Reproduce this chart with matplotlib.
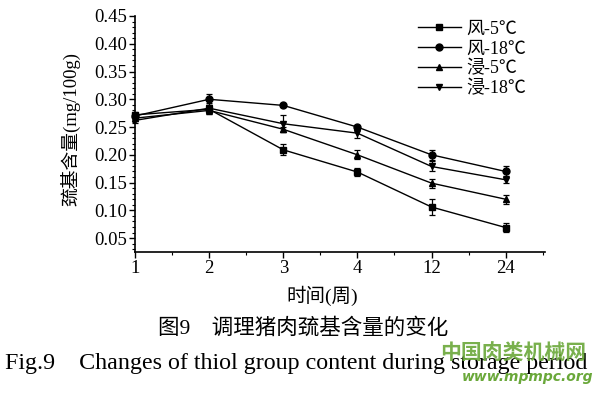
import matplotlib.pyplot as plt
from matplotlib.ticker import MultipleLocator
from matplotlib.lines import Line2D
import numpy as np

weeks = ['1', '2', '3', '4', '12', '24']
series_names = ['风-5℃', '风-18℃', '浸-5℃', '浸-18℃']
feng_5 = [0.272, 0.282, 0.209, 0.169, 0.106, 0.069]
feng_18 = [0.270, 0.300, 0.289, 0.250, 0.200, 0.170]
jin_5 = [0.266, 0.280, 0.246, 0.200, 0.149, 0.120]
jin_18 = [0.262, 0.284, 0.256, 0.239, 0.179, 0.155]
feng_5_err = [0.005, 0.008, 0.010, 0.008, 0.015, 0.008]
feng_18_err = [0.005, 0.010, 0.003, 0.003, 0.009, 0.009]
jin_5_err = [0.005, 0.005, 0.005, 0.008, 0.008, 0.008]
jin_18_err = [0.005, 0.010, 0.015, 0.008, 0.009, 0.006]

fonts = ['Liberation Serif', 'Noto Sans CJK SC', 'DejaVu Sans']
plt.rcParams['font.family'] = fonts


def main():
    fig = plt.figure(figsize=(6.0, 3.95), dpi=100)
    ax = fig.add_axes([135 / 600, 1 - 252 / 395, (545 - 135) / 600, (252 - 16) / 395])
    x = np.arange(len(weeks))

    data = [feng_5, feng_18, jin_5, jin_18]
    errs = [feng_5_err, feng_18_err, jin_5_err, jin_18_err]
    markers = ['s', 'o', '^', 'v']
    handles = []
    for y, e, m, name in zip(data, errs, markers, series_names):
        ax.errorbar(x, y, yerr=e, color='black', marker=m, markersize=5,
                    linewidth=1, elinewidth=0.9, capsize=2.5, capthick=0.9,
                    clip_on=False)
        handles.append(Line2D([], [], color='black', marker=m, markersize=5,
                              linewidth=1, label=name))

    ax.set_xlim(0, 5.53)
    ax.set_ylim(0.025, 0.45)
    ax.set_xticks(x)
    ax.set_xticklabels(weeks)
    ax.xaxis.set_minor_locator(MultipleLocator(0.5))
    ax.yaxis.set_minor_locator(MultipleLocator(0.01))
    ax.set_yticks(np.arange(0.05, 0.451, 0.05))
    ax.set_yticklabels([f'{v:.2f}' for v in np.arange(0.05, 0.451, 0.05)])
    ax.spines['top'].set_visible(False)
    ax.spines['right'].set_visible(False)
    ax.spines['left'].set_linewidth(1.2)
    ax.spines['bottom'].set_linewidth(1.2)
    ax.tick_params(axis='both', which='major', direction='out', length=4,
                   width=1, labelsize=13.5, pad=2)
    ax.tick_params(axis='both', which='minor', direction='out', length=2, width=0.8)

    # y label placed by hand to sit where the original has it
    fig.text(70 / 600, 1 - 129 / 395, '巯基含量(mg/100g)', rotation=90,
             ha='center', va='center', fontsize=13.5)
    fig.text(322 / 600, 1 - 296 / 395, '时间(周)', ha='center', va='center',
             fontsize=14)

    ax.legend(handles=handles, loc='upper left',
              bbox_to_anchor=(405 / 600, 1 - 8 / 395),
              bbox_transform=fig.transFigure, frameon=False,
              fontsize=13, handlelength=2.4, handletextpad=0.3,
              labelspacing=0.15, borderpad=0.2)

    fig.text(303 / 600, 1 - 328 / 395, '图9    调理猪肉巯基含量的变化', ha='center',
             va='center', fontsize=15.5)
    fig.text(5 / 600, 1 - 363 / 395,
             'Fig.9    Changes of thiol group content during storage period',
             ha='left', va='center', fontsize=17.3)
    fig.text(0.855, 1 - 355 / 395, '中国肉类机械网', ha='center', va='center',
             fontsize=15, color='#6aa83a', fontweight='bold', alpha=0.9)
    fig.text(0.88, 1 - 377 / 395, 'www.mpmpc.org', ha='center', va='center',
             fontsize=10, color='#6aa83a', style='italic', fontweight='bold',
             family='DejaVu Sans')

    fig.savefig('out.png', dpi=100)


if __name__ == "__main__":
    main()
